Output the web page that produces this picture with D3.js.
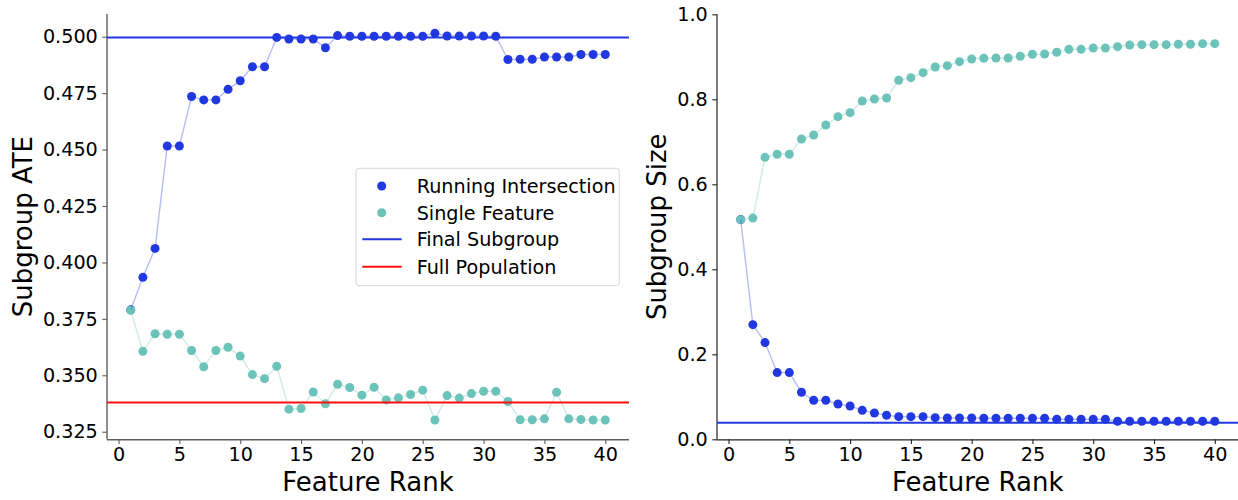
<!DOCTYPE html>
<html>
<head>
<meta charset="utf-8">
<script src="https://cdn.jsdelivr.net/npm/d3@7"></script>
<style>
  html, body { margin: 0; padding: 0; background: #fff; }
  svg { display: block; }
  text { font-family: "DejaVu Sans", sans-serif; fill: #000; }
</style>
</head>
<body>
<svg id="chart" width="1238" height="500"></svg>
<script>
// ---------------- data ----------------
const ranks = d3.range(1, 41);

const ateRunning = [0.3790, 0.3934, 0.4062, 0.4516, 0.4516, 0.4735, 0.4720, 0.4720, 0.4767, 0.4805,
                    0.4867, 0.4867, 0.4997, 0.4990, 0.4990, 0.4990, 0.4951, 0.5005, 0.5002, 0.5002,
                    0.5002, 0.5002, 0.5002, 0.5002, 0.5002, 0.5015, 0.5003, 0.5003, 0.5003, 0.5003,
                    0.5002, 0.4899, 0.4900, 0.4900, 0.4910, 0.4910, 0.4910, 0.4921, 0.4921, 0.4921];

const ateSingle = [0.3788, 0.3606, 0.3684, 0.3682, 0.3682, 0.3610, 0.3538, 0.3610, 0.3624, 0.3585,
                   0.3503, 0.3485, 0.3540, 0.3350, 0.3353, 0.3426, 0.3374, 0.3460, 0.3446, 0.3412,
                   0.3447, 0.3391, 0.3400, 0.3415, 0.3434, 0.3302, 0.3410, 0.3399, 0.3419, 0.3429,
                   0.3429, 0.3384, 0.3303, 0.3303, 0.3307, 0.3425, 0.3307, 0.3304, 0.3302, 0.3302];

const ateFinal = 0.4997;
const ateFull = 0.3379;

const sizeRunning = [0.5169, 0.2698, 0.2275, 0.1569, 0.1569, 0.1106, 0.0918, 0.0918, 0.0831, 0.0784,
                     0.0682, 0.0620, 0.0565, 0.0533, 0.0533, 0.0533, 0.0510, 0.0502, 0.0502, 0.0502,
                     0.0494, 0.0494, 0.0494, 0.0494, 0.0494, 0.0494, 0.0471, 0.0471, 0.0471, 0.0471,
                     0.0471, 0.0424, 0.0424, 0.0424, 0.0424, 0.0424, 0.0424, 0.0424, 0.0424, 0.0424];

const sizeSingle = [0.5168, 0.5205, 0.6635, 0.6706, 0.6706, 0.7066, 0.7160, 0.7396, 0.7592, 0.7686,
                    0.7961, 0.8008, 0.8031, 0.8447, 0.8510, 0.8627, 0.8761, 0.8792, 0.8886, 0.8949,
                    0.8965, 0.8973, 0.8973, 0.9012, 0.9059, 0.9067, 0.9106, 0.9176, 0.9176, 0.9208,
                    0.9208, 0.9239, 0.9278, 0.9286, 0.9286, 0.9286, 0.9294, 0.9294, 0.9310, 0.9310];

const sizeFinal = 0.0392;

const xTicks = [0, 5, 10, 15, 20, 25, 30, 35, 40];
const ateTicks = [0.325, 0.350, 0.375, 0.400, 0.425, 0.450, 0.475, 0.500];
const sizeTicks = [0.0, 0.2, 0.4, 0.6, 0.8, 1.0];

const legendLabels = ["Running Intersection", "Single Feature", "Final Subgroup", "Full Population"];

// ---------------- styles ----------------
const BLUE = "#2238e0";
const TEAL = "#6cc3b9";
const RED = "#ff1010";
const TICK_FONT = "19.2px";
const LABEL_FONT = "26px";

const svg = d3.select("#chart");

function padded(ext) {
  const m = (ext[1] - ext[0]) * 0.05;
  return [ext[0] - m, ext[1] + m];
}

function panel(opts) {
  const g = svg.append("g");
  const x = d3.scaleLinear().domain(padded(d3.extent(ranks))).range([opts.left, opts.right]);
  const y = d3.scaleLinear().domain(opts.yDomain).range([opts.bottom, opts.top]);

  const xAxis = d3.axisBottom(x).tickValues(xTicks).tickFormat(d3.format("d")).tickSizeOuter(0).tickSize(4.7).tickPadding(3.5);
  const yAxis = d3.axisLeft(y).tickValues(opts.yTicks).tickFormat(d3.format(opts.fmt)).tickSizeOuter(0).tickSize(4.7).tickPadding(4.5);

  const gx = g.append("g").attr("transform", `translate(0,${opts.bottom})`).call(xAxis);
  const gy = g.append("g").attr("transform", `translate(${opts.left},0)`).call(yAxis);
  [gx, gy].forEach(a => {
    a.select(".domain").attr("stroke", opts.spine).attr("stroke-width", opts.spineW);
    a.selectAll(".tick line").attr("stroke", opts.spine).attr("stroke-width", 1.1);
    a.selectAll(".tick text").style("font-family", "DejaVu Sans").style("font-size", TICK_FONT).attr("fill", "#000");
  });
  gx.select(".domain").attr("d", `M${opts.left},0.5H${opts.right}`);
  gy.select(".domain").attr("d", `M0,${opts.top}V${opts.bottom}`);

  const dots = g.append("g");
  dots.selectAll(".r").data(ranks).enter().append("circle")
    .attr("cx", d => x(d)).attr("cy", (d, i) => y(opts.running[i])).attr("r", 4.5).attr("fill", BLUE);
  dots.selectAll(".s").data(ranks).enter().append("circle")
    .attr("cx", d => x(d)).attr("cy", (d, i) => y(opts.single[i])).attr("r", 4.5).attr("fill", TEAL);

  const line = vals => d3.line().x(d => x(d)).y((d, i) => y(vals[i]))(ranks);
  g.append("path").attr("d", line(opts.running)).attr("fill", "none").attr("stroke", BLUE).attr("stroke-opacity", 0.33).attr("stroke-width", 1.4);
  g.append("path").attr("d", line(opts.single)).attr("fill", "none").attr("stroke", TEAL).attr("stroke-opacity", 0.33).attr("stroke-width", 1.4);

  opts.hlines.forEach(h => {
    g.append("line").attr("x1", opts.left).attr("x2", opts.right)
      .attr("y1", y(h.v)).attr("y2", y(h.v))
      .attr("stroke", h.c).attr("stroke-width", 2);
  });

  g.append("text").attr("x", (opts.left + opts.right) / 2).attr("y", 491)
    .attr("text-anchor", "middle").style("font-size", LABEL_FONT).text("Feature Rank");
  g.append("text").attr("transform", `translate(${opts.ylabelX},${(opts.top + opts.bottom) / 2}) rotate(-90)`)
    .attr("text-anchor", "middle").style("font-size", LABEL_FONT).text(opts.ylabel);
  return { g, x, y };
}

const ateAll = ateRunning.concat(ateSingle);
panel({
  left: 107, right: 629, top: 14, bottom: 439.3,
  yDomain: padded(d3.extent(ateAll)),
  yTicks: ateTicks, fmt: ".3f",
  running: ateRunning, single: ateSingle,
  hlines: [{ v: ateFinal, c: BLUE }, { v: ateFull, c: RED }],
  spine: "#5e5e5e", spineW: 1.4,
  ylabel: "Subgroup ATE", ylabelX: 32
});

panel({
  left: 717, right: 1238.5, top: 14.3, bottom: 439.3,
  yDomain: [0, 1],
  yTicks: sizeTicks, fmt: ".1f",
  running: sizeRunning, single: sizeSingle,
  hlines: [{ v: sizeFinal, c: BLUE }],
  spine: "#222", spineW: 1.2,
  ylabel: "Subgroup Size", ylabelX: 665.5
});

const lg = svg.append("g");
lg.append("rect").attr("x", 356).attr("y", 168.3).attr("width", 263.3).attr("height", 117.4)
  .attr("rx", 3).attr("fill", "#fff").attr("fill-opacity", 0.8).attr("stroke", "#d6d6d6").attr("stroke-width", 1);
const rowY = [186, 212.7, 239.3, 266.7];
const kinds = [{ t: "dot", c: BLUE }, { t: "dot", c: TEAL }, { t: "line", c: BLUE }, { t: "line", c: RED }];
legendLabels.forEach((lab, i) => {
  const k = kinds[i];
  if (k.t === "dot") {
    lg.append("circle").attr("cx", 381.7).attr("cy", rowY[i]).attr("r", 4.5).attr("fill", k.c);
  } else {
    lg.append("line").attr("x1", 362.3).attr("x2", 401.7).attr("y1", rowY[i]).attr("y2", rowY[i])
      .attr("stroke", k.c).attr("stroke-width", 2);
  }
  lg.append("text").attr("x", 416.7).attr("y", rowY[i] + 7).style("font-size", TICK_FONT).text(lab);
});
</script>
</body>
</html>
